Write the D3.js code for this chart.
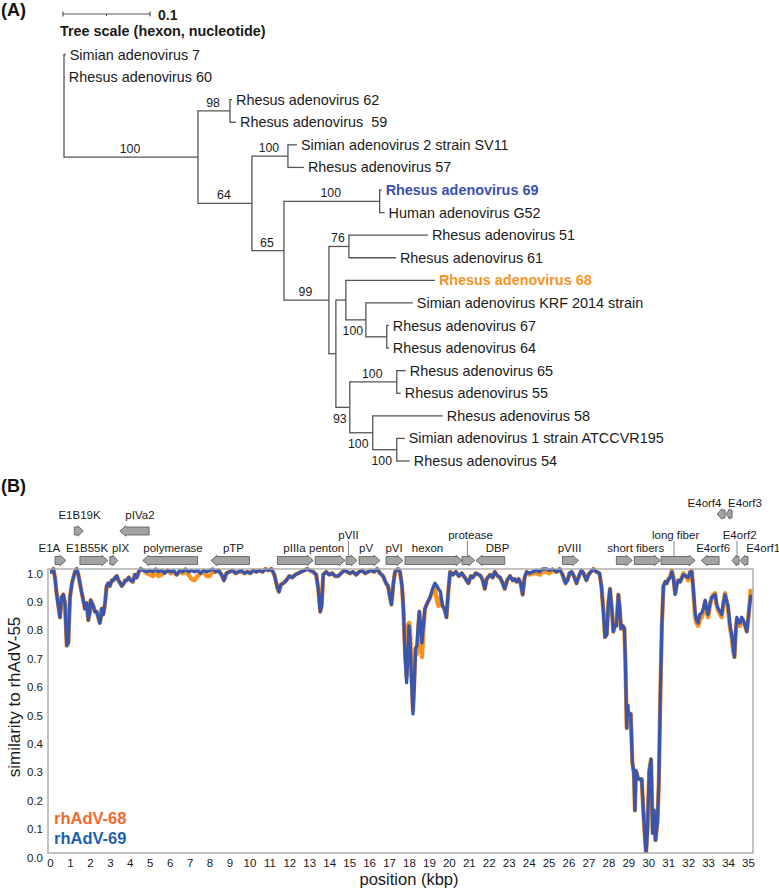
<!DOCTYPE html>
<html>
<head>
<meta charset="utf-8">
<script src="https://cdn.jsdelivr.net/npm/d3@7"></script>
<style>
body { margin: 0; background: #fff; }
svg { font-family: 'Liberation Sans', Arial, Helvetica, sans-serif; }
text { white-space: pre; }
</style>
</head>
<body>
<div id="chart"></div>
<script>
// ---------- (A) tree data: branch lengths in substitutions/site ----------
const treeData = { children: [
  { name: 'Simian adenovirus 7', len: 0.002 },
  { name: 'Rhesus adenovirus 60', len: 0.001 },
  { id: 'X', support: 100, len: 0.154, children: [
    { id: 'P', support: 98, len: 0.0368, children: [
      { name: 'Rhesus adenovirus 62', len: 0.0023 },
      { name: 'Rhesus adenovirus \u00a059', len: 0.0069 }
    ] },
    { id: 'Y', support: 64, len: 0.062, children: [
      { id: 'Q', support: 100, len: 0.0414, children: [
        { name: 'Simian adenovirus 2 strain SV11', len: 0.0103 },
        { name: 'Rhesus adenovirus 57', len: 0.0184 }
      ] },
      { id: 'Z', support: 65, len: 0.0368, children: [
        { id: 'R', support: 100, len: 0.110, children: [
          { name: 'Rhesus adenovirus 69', len: 0.0023 },
          { name: 'Human adenovirus G52', len: 0.0057 }
        ] },
        { id: 'A', support: 99, len: 0.0517, children: [
          { id: 'S', support: 76, len: 0.023, children: [
            { name: 'Rhesus adenovirus 51', len: 0.0908 },
            { name: 'Rhesus adenovirus 61', len: 0.054 }
          ] },
          { id: 'B', len: 0.008, children: [
            { id: 'C', len: 0.0115, children: [
              { name: 'Rhesus adenovirus 68', len: 0.1023 },
              { id: 'D', support: 100, len: 0.023, children: [
                { name: 'Simian adenovirus KRF 2014 strain', len: 0.054 },
                { id: 'E', len: 0.024, children: [
                  { name: 'Rhesus adenovirus 67', len: 0.0023 },
                  { name: 'Rhesus adenovirus 64', len: 0.0023 }
                ] }
              ] }
            ] },
            { id: 'F', support: 93, len: 0.016, children: [
              { id: 'G', support: 100, len: 0.054, children: [
                { name: 'Rhesus adenovirus 65', len: 0.0103 },
                { name: 'Rhesus adenovirus 55', len: 0.0046 }
              ] },
              { id: 'H', support: 100, len: 0.0264, children: [
                { name: 'Rhesus adenovirus 58', len: 0.0805 },
                { id: 'I', support: 100, len: 0.0276, children: [
                  { name: 'Simian adenovirus 1 strain ATCCVR195', len: 0.0092 },
                  { name: 'Rhesus adenovirus 54', len: 0.015 }
                ] }
              ] }
            ] }
          ] }
        ] }
      ] }
    ] }
  ] }
] }

// ---------- (B) similarity plot data ----------
const positions = [
  0.00, 0.10, 0.17, 0.25, 0.33, 0.42, 0.50, 0.58, 0.67, 0.75,
  0.84, 0.92, 1.00, 1.10, 1.25, 1.34, 1.42, 1.50, 1.58, 1.67,
  1.75, 1.84, 1.92, 2.00, 2.04, 2.10, 2.17, 2.25, 2.34, 2.42,
  2.50, 2.55, 2.59, 2.67, 2.72, 2.76, 2.84, 2.92, 3.00, 3.10,
  3.18, 3.26, 3.35, 3.43, 3.52, 3.60, 3.70, 3.77, 3.85, 3.95,
  4.05, 4.15, 4.26, 4.35, 4.45, 4.55, 4.70, 4.85, 5.00, 5.15,
  5.30, 5.45, 5.60, 5.75, 5.90, 6.05, 6.20, 6.35, 6.50, 6.65,
  6.80, 6.95, 7.10, 7.25, 7.40, 7.55, 7.70, 7.85, 8.00, 8.15,
  8.30, 8.45, 8.60, 8.72, 8.85, 9.00, 9.15, 9.30, 9.45, 9.60,
  9.75, 9.90, 10.05, 10.20, 10.35, 10.50, 10.65, 10.80, 10.95, 11.10,
  11.25, 11.40, 11.48, 11.58, 11.70, 11.85, 12.00, 12.15, 12.30, 12.45,
  12.60, 12.75, 12.90, 13.05, 13.20, 13.35, 13.45, 13.55, 13.62, 13.70,
  13.85, 14.00, 14.15, 14.30, 14.45, 14.60, 14.75, 14.90, 15.05, 15.20,
  15.35, 15.50, 15.65, 15.80, 15.95, 16.10, 16.25, 16.40, 16.55, 16.70,
  16.85, 16.95, 17.05, 17.12, 17.22, 17.30, 17.45, 17.55, 17.65, 17.72,
  17.80, 17.88, 17.95, 18.00, 18.05, 18.12, 18.20, 18.26, 18.33, 18.40,
  18.46, 18.52, 18.58, 18.65, 18.72, 18.80, 18.92, 19.06, 19.18, 19.30,
  19.40, 19.48, 19.58, 19.68, 19.78, 19.88, 19.95, 20.06, 20.20, 20.35,
  20.50, 20.65, 20.80, 20.98, 21.10, 21.20, 21.35, 21.50, 21.60, 21.70,
  21.80, 21.90, 22.07, 22.20, 22.30, 22.45, 22.57, 22.70, 22.80, 22.92,
  23.07, 23.20, 23.30, 23.40, 23.50, 23.60, 23.70, 23.80, 23.90, 24.05,
  24.20, 24.40, 24.55, 24.70, 24.90, 25.05, 25.20, 25.40, 25.55, 25.70,
  25.85, 25.95, 26.05, 26.16, 26.30, 26.40, 26.55, 26.65, 26.75, 26.90,
  27.00, 27.12, 27.25, 27.40, 27.55, 27.65, 27.75, 27.83, 27.92, 28.00,
  28.08, 28.17, 28.25, 28.32, 28.40, 28.50, 28.57, 28.63, 28.72, 28.80,
  28.85, 28.92, 28.97, 29.00, 29.12, 29.20, 29.28, 29.33, 29.38, 29.50,
  29.67, 29.75, 29.84, 29.89, 29.95, 30.05, 30.14, 30.22, 30.29, 30.36,
  30.46, 30.53, 30.60, 30.68, 30.76, 30.85, 30.93, 31.02, 31.10, 31.18,
  31.26, 31.35, 31.42, 31.50, 31.60, 31.76, 31.88, 32.00, 32.10, 32.18,
  32.26, 32.35, 32.42, 32.50, 32.58, 32.68, 32.76, 32.85, 32.92, 33.00,
  33.10, 33.18, 33.26, 33.35, 33.42, 33.50, 33.60, 33.68, 33.76, 33.85,
  33.92, 34.00, 34.10, 34.18, 34.26, 34.32, 34.38, 34.44, 34.52, 34.60,
  34.68, 34.77, 34.86, 34.94, 35.02, 35.08, 35.14
]

const simRh69 = [
  .99, .99, 1.0, .97, .915, .87, .83, .90, .91, .88,
  .73, .74, .90, .95, .99, 1.0, .98, .95, .92, .89,
  .86, .88, .82, .85, .89, .88, .87, .85, .85, .83,
  .81, .83, .86, .84, .86, .88, .94, .95, .94, .96,
  .96, .97, .975, .96, .95, .94, .95, .96, .96, .97,
  .96, .955, .98, .97, .99, 1.0, .995, .99, .995, .99,
  1.0, .99, .995, .985, .995, .99, .995, .98, .995, .99,
  1.0, .99, .995, .99, .995, .985, .995, .99, .995, 1.0,
  .99, .995, .98, .96, .985, .99, .995, .985, .99, .995,
  .985, .99, .985, .995, .99, .995, .99, 1.0, .995, 1.0,
  .98, .935, .92, .945, .95, .96, .975, .97, .98, .985,
  .99, .995, 1.0, .995, .99, .98, .93, .85, .87, .98,
  .99, .98, .985, .975, .975, .985, .995, .99, .985, .99,
  .98, .99, .995, .985, .99, .995, .99, 1.0, .985, .975,
  .95, .94, .90, .875, .95, .99, 1.0, .99, .94, .86,
  .70, .60, .70, .80, .76, .62, .49, .58, .72, .73,
  .80, .85, .80, .74, .80, .86, .88, .90, .93, .95,
  .94, .93, .92, .87, .86, .83, .90, .99, .98, .99,
  .975, .985, .97, .95, .975, .97, .985, .98, .975, .96,
  .93, .965, .98, .97, .99, .975, .97, .95, .93, .96,
  .975, .96, .965, .955, .965, .95, .91, .97, .99, .985,
  .99, .995, .99, 1.0, 1.0, .995, 1.0, .99, 1.0, .98,
  .95, .96, .985, .99, .97, .95, .98, .995, .985, .96,
  .98, .99, 1.0, .99, .985, .94, .85, .76, .77, .88,
  .93, .86, .78, .80, .80, .91, .86, .79, .80, .79,
  .68, .44, .52, .49, .49, .32, .28, .15, .29, .26,
  .26, .15, .045, 0, .07, .29, .33, .07, .15, .045,
  .11, .25, .54, .80, .94, .955, .95, .965, .97, .99,
  .965, .91, .94, .96, .955, .98, .975, .97, .99, .99,
  .93, .845, .82, .81, .84, .845, .86, .89, .86, .84,
  .88, .90, .905, .91, .88, .86, .85, .84, .88, .91,
  .89, .87, .80, .77, .72, .69, .78, .83, .81, .81,
  .83, .82, .80, .78, .83, .87, .91
]

const simRh68 = [
  .99, .99, 1.0, .97, .915, .87, .83, .90, .91, .88,
  .73, .74, .90, .95, .99, 1.0, .98, .95, .92, .89,
  .86, .88, .82, .85, .89, .88, .87, .85, .85, .83,
  .81, .83, .86, .84, .86, .88, .94, .95, .94, .96,
  .96, .97, .975, .96, .95, .94, .95, .96, .96, .97,
  .96, .955, .98, .97, .99, 1.0, .995, .985, .98, .975,
  .985, .975, .98, .99, .995, .985, .99, .98, .99, .985,
  .99, .98, .965, .96, .975, .985, .99, .975, .975, .99,
  .99, .995, .98, .96, .985, .99, .995, .985, .99, .99,
  .985, .99, .985, .995, .99, .995, .99, 1.0, .995, 1.0,
  .98, .935, .92, .945, .95, .96, .975, .97, .98, .985,
  .99, .995, 1.0, .995, .99, .98, .93, .85, .87, .98,
  .99, .98, .985, .975, .975, .985, .995, .99, .985, .99,
  .98, .99, .995, .985, .99, .995, .99, 1.0, .985, .975,
  .95, .94, .90, .875, .95, .99, 1.0, .99, .94, .86,
  .72, .62, .80, .81, .79, .65, .50, .60, .72, .70,
  .78, .85, .75, .69, .78, .86, .88, .90, .92, .93,
  .89, .87, .90, .87, .86, .83, .90, .99, .98, .99,
  .975, .985, .97, .95, .975, .97, .985, .98, .975, .96,
  .93, .965, .98, .97, .99, .975, .97, .95, .93, .96,
  .975, .96, .965, .955, .965, .95, .91, .97, .99, .98,
  .985, .985, .98, .99, .99, .985, .995, .99, 1.0, .98,
  .95, .96, .985, .99, .97, .95, .98, .995, .985, .96,
  .98, .99, 1.0, .99, .985, .94, .85, .76, .77, .88,
  .93, .86, .78, .80, .80, .91, .86, .79, .80, .79,
  .68, .44, .52, .49, .49, .32, .28, .15, .29, .26,
  .26, .15, .045, 0, .07, .29, .33, .07, .15, .045,
  .11, .25, .54, .80, .94, .955, .95, .965, .975, .995,
  .97, .915, .945, .96, .955, .985, .975, .96, .99, .995,
  .92, .83, .81, .80, .82, .83, .85, .885, .85, .83,
  .875, .90, .91, .915, .875, .855, .84, .83, .875, .915,
  .89, .86, .79, .76, .71, .69, .77, .82, .80, .80,
  .825, .81, .80, .78, .83, .88, .93
]

// genes (kbp), strand +1 = rightward, row 0 = main track
const geneStart  = [0.25, 1.22, 1.50, 3.00, 3.50, 4.65, 8.07, 11.40, 13.30, 14.85, 15.50, 16.85, 17.80, 20.66, 21.36, 25.70, 28.40, 29.30, 30.64, 32.65, 33.45, 33.90, 34.20, 34.60]
const geneEnd    = [0.80, 1.67, 2.90, 3.40, 4.97, 7.40, 10.00, 13.20, 14.80, 15.40, 16.55, 17.70, 20.66, 21.30, 22.80, 26.50, 29.20, 30.60, 32.35, 33.55, 33.85, 34.20, 34.55, 35.00]
const geneStrand = [1, 1, 1, 1, -1, -1, -1, 1, 1, 1, 1, 1, 1, 1, -1, 1, 1, 1, 1, -1, -1, -1, -1, -1]
const geneRow    = [0, 1, 0, 0, 1, 0, 0, 0, 0, 0, 0, 0, 0, 0, 0, 0, 0, 0, 0, 0, 2, 2, 0, 0]

const geneLabels  = ['E1A', 'E1B19K', 'E1B55K', 'pIX', 'pIVa2', 'polymerase', 'pTP', 'pIIIa', 'penton', 'pVII', 'pV', 'pVI', 'hexon', 'protease', 'DBP', 'pVIII', 'short fibers', 'long fiber', 'E4orf6', 'E4orf4', 'E4orf3', 'E4orf2', 'E4orf1']
const labelAt     = [-0.03, 1.48, 1.86, 3.54, 4.51, 6.17, 9.20, 12.26, 13.87, 14.97, 15.85, 17.25, 18.93, 21.09, 22.44, 26.05, 29.37, 31.37, 33.25, 32.82, 34.85, 34.58, 35.76]
const labelTier   = [0, 2, 0, 0, 2, 0, 0, 0, 0, 1, 0, 0, 0, 1, 0, 0, 0, 1, 0, 3, 3, 1, 0]
const leaderAt    = { pVII: 14.97, protease: 20.93, 'long fiber': 31.29, E4orf2: 34.45 }

const xTicks = d3.range(0, 36)
const yTicks = d3.range(0, 11).map(d => d / 10)

// ---------- layout ----------
const W = 779, H = 891
const font = "'Liberation Sans', Arial, Helvetica, sans-serif"

let svg = d3.select('#chart').append('svg')
  .attr('width', W).attr('height', H)
  .attr('viewBox', `0 0 ${W} ${H}`)

svg.append('rect').attr('width', W).attr('height', H).attr('fill', '#fff')

svg.append('text').attr('x', 1).attr('y', 16)
  .attr('font-size', 18).attr('font-weight', 'bold').attr('fill', '#111')
  .text('(A)')

// ---------- tree ----------
let treeX = d3.scaleLinear().domain([0, 0.1]).range([64, 151])
let root = d3.hierarchy(treeData)
root.each(d => {
  d.dist = d.parent ? d.parent.dist + (d.data.len || 0) : 0
})
let leaves = root.leaves()
let leafY = d3.scaleLinear().domain([0, leaves.length - 1]).range([54.5, 461])
leaves.forEach((d, i) => { d.py = leafY(i) })
root.eachAfter(d => {
  if (d.children) d.py = (d.children[0].py + d.children[d.children.length - 1].py) / 2
  d.px = treeX(d.dist)
})

let tg = svg.append('g')
let lineCol = '#555'

// horizontal branches
tg.selectAll('.hbranch')
  .data(root.descendants().filter(d => d.parent))
  .enter().append('line')
  .attr('class', 'hbranch')
  .attr('x1', d => d.parent.px).attr('x2', d => d.px)
  .attr('y1', d => d.py).attr('y2', d => d.py)
  .attr('stroke', lineCol).attr('stroke-width', 1.3)

// vertical connectors
tg.selectAll('.vbranch')
  .data(root.descendants().filter(d => d.children))
  .enter().append('line')
  .attr('class', 'vbranch')
  .attr('x1', d => d.px).attr('x2', d => d.px)
  .attr('y1', d => d.children[0].py - 0.6)
  .attr('y2', d => d.children[d.children.length - 1].py + 0.6)
  .attr('stroke', lineCol).attr('stroke-width', 1.3)

// leaf labels
const highlight = { 'Rhesus adenovirus 69': '#3b4fb0', 'Rhesus adenovirus 68': '#f7931e' }
tg.selectAll('.leaf')
  .data(leaves)
  .enter().append('text')
  .attr('class', 'leaf')
  .attr('x', d => d.px + 4)
  .attr('y', d => d.py + 5)
  .attr('font-size', 14.4)
  .attr('font-weight', d => highlight[d.data.name] ? 'bold' : 'normal')
  .attr('fill', d => highlight[d.data.name] || '#1a1a1a')
  .text(d => d.data.name)

// bootstrap values
const supportBelow = ['D', 'F', 'H', 'I']
tg.selectAll('.support')
  .data(root.descendants().filter(d => d.data.support))
  .enter().append('text')
  .attr('class', 'support')
  .attr('text-anchor', 'middle')
  .attr('font-size', 12.3)
  .attr('fill', '#1a1a1a')
  .attr('x', d => (d.parent.px + d.px) / 2 - (supportBelow.includes(d.data.id) ? 3 : 1))
  .attr('y', d => supportBelow.includes(d.data.id) ? d.py + 15.5 : d.py - 4)
  .text(d => d.data.support)

// scale bar
let sb = svg.append('g')
let sbY = 14
sb.append('line').attr('x1', treeX(0) - 1).attr('x2', treeX(0.1) - 1)
  .attr('y1', sbY).attr('y2', sbY).attr('stroke', '#555').attr('stroke-width', 1.2)
;[0, 0.1].forEach(v => {
  sb.append('line').attr('x1', treeX(v) - 1).attr('x2', treeX(v) - 1)
    .attr('y1', sbY - 2.5).attr('y2', sbY + 2.5).attr('stroke', '#555').attr('stroke-width', 1.2)
})
sb.append('line').attr('x1', treeX(0.05) - 1).attr('x2', treeX(0.05) - 1)
  .attr('y1', sbY).attr('y2', sbY + 2).attr('stroke', '#555').attr('stroke-width', 1)
sb.append('text').attr('x', treeX(0.1) + 7).attr('y', sbY + 6)
  .attr('font-size', 14).attr('font-weight', 'bold').attr('fill', '#1a1a1a').text('0.1')
sb.append('text').attr('x', 60).attr('y', 36)
  .attr('font-size', 14.4).attr('font-weight', 'bold').attr('fill', '#1a1a1a')
  .text('Tree scale (hexon, nucleotide)')

// ---------- (B) ----------
svg.append('text').attr('x', 1).attr('y', 492)
  .attr('font-size', 18).attr('font-weight', 'bold').attr('fill', '#111')
  .text('(B)')

let x = d3.scaleLinear().domain([0, 35]).range([50, 748])
let y = d3.scaleLinear().domain([0, 1]).range([853, 569])
let frameL = x(-0.1), frameR = x(35.25)

svg.append('defs').append('clipPath').attr('id', 'plotclip')
  .append('rect').attr('x', frameL).attr('y', y(1) - 3)
  .attr('width', frameR - frameL).attr('height', y(0) - y(1) + 3)

// gene arrows
const rowY = [560.5, 531, 514]
function arrowPath(i) {
  let x0 = x(geneStart[i]), x1 = x(geneEnd[i])
  let cy = rowY[geneRow[i]]
  let head = Math.min(6, (x1 - x0) * 0.6)
  let bh = 4, hh = 5.2
  let pts
  if (geneStrand[i] > 0) {
    pts = [[x0, cy - bh], [x1 - head, cy - bh], [x1 - head, cy - hh], [x1, cy],
      [x1 - head, cy + hh], [x1 - head, cy + bh], [x0, cy + bh]]
  } else {
    pts = [[x1, cy - bh], [x0 + head, cy - bh], [x0 + head, cy - hh], [x0, cy],
      [x0 + head, cy + hh], [x0 + head, cy + bh], [x1, cy + bh]]
  }
  return 'M' + pts.map(p => p.join(',')).join('L') + 'Z'
}

let gg = svg.append('g')
gg.selectAll('.gene')
  .data(d3.range(geneStart.length))
  .enter().append('path')
  .attr('class', 'gene')
  .attr('d', arrowPath)
  .attr('fill', '#a3a3a3')
  .attr('stroke', '#555')
  .attr('stroke-width', 0.8)

const tierY = [551.5, 539, 519, 507]
gg.selectAll('.glabel')
  .data(geneLabels)
  .enter().append('text')
  .attr('class', 'glabel')
  .attr('x', (d, i) => x(labelAt[i]))
  .attr('y', (d, i) => tierY[labelTier[i]])
  .attr('text-anchor', 'middle')
  .attr('font-size', 11.5)
  .attr('fill', '#1a1a1a')
  .text(d => d)

gg.selectAll('.leader')
  .data(Object.keys(leaderAt))
  .enter().append('line')
  .attr('class', 'leader')
  .attr('x1', d => x(leaderAt[d])).attr('x2', d => x(leaderAt[d]))
  .attr('y1', tierY[1] + 2).attr('y2', rowY[0] - 4)
  .attr('stroke', '#666').attr('stroke-width', 0.8)

// lines
let series68 = positions.map((p, i) => ({ pos: p, val: simRh68[i] }))
let series69 = positions.map((p, i) => ({ pos: p, val: simRh69[i] }))
let line = d3.line().x(d => x(d.pos)).y(d => y(d.val))

let pg = svg.append('g').attr('clip-path', 'url(#plotclip)')
pg.append('path').datum(series68)
  .attr('d', line).attr('fill', 'none')
  .attr('stroke', '#f7931e').attr('stroke-width', 4.3)
  .attr('stroke-linejoin', 'round')
pg.append('path').datum(series69)
  .attr('d', line).attr('fill', 'none')
  .attr('stroke', '#3a55ad').attr('stroke-width', 3.3)
  .attr('stroke-linejoin', 'round')

// frame
svg.append('rect')
  .attr('x', frameL).attr('y', y(1))
  .attr('width', frameR - frameL).attr('height', y(0) - y(1))
  .attr('fill', 'none').attr('stroke', '#aaa').attr('stroke-width', 1.4)

// axes (labels only)
let yAxis = svg.append('g')
  .attr('transform', `translate(${frameL},0)`)
  .call(d3.axisLeft(y).tickValues(yTicks).tickFormat(d3.format('.1f')).tickSize(0).tickPadding(5))
yAxis.select('.domain').remove()
yAxis.selectAll('text').attr('dy', '0.7em')
  .attr('font-size', 11.5).attr('font-family', font).attr('fill', '#1a1a1a')

let xAxis = svg.append('g')
  .attr('transform', `translate(0,${y(0)})`)
  .call(d3.axisBottom(x).tickValues(xTicks).tickSize(0).tickPadding(6))
xAxis.select('.domain').remove()
xAxis.selectAll('text')
  .attr('font-size', 11.5).attr('font-family', font).attr('fill', '#1a1a1a')

svg.append('text')
  .attr('transform', 'translate(20,697) rotate(-90)')
  .attr('text-anchor', 'middle')
  .attr('font-size', 17).attr('fill', '#1a1a1a')
  .text('similarity to rhAdV-55')

svg.append('text')
  .attr('x', 409).attr('y', 885)
  .attr('text-anchor', 'middle')
  .attr('font-size', 16.5).attr('fill', '#1a1a1a')
  .text('position (kbp)')

// legend
svg.append('text').attr('x', 54).attr('y', 824)
  .attr('font-size', 16.5).attr('font-weight', 'bold').attr('fill', '#f26a2e')
  .text('rhAdV-68')
svg.append('text').attr('x', 54).attr('y', 844)
  .attr('font-size', 16.5).attr('font-weight', 'bold').attr('fill', '#1e5fae')
  .text('rhAdV-69')
</script>
</body>
</html>
